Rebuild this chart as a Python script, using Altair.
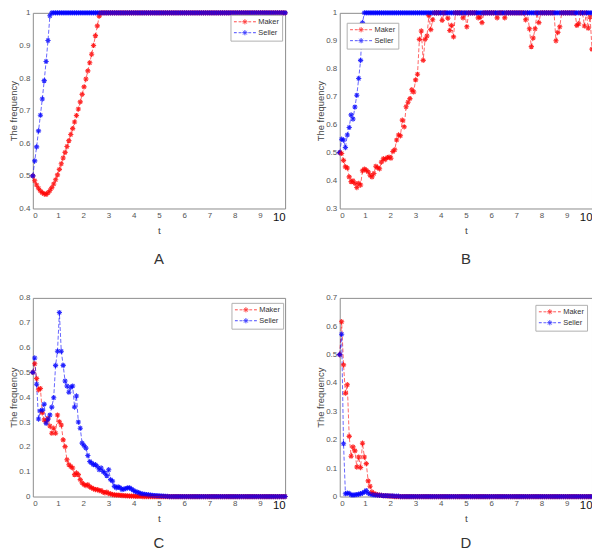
import altair as alt
import pandas as pd

N = 134
t = [round(i * 10 / (N - 1), 4) for i in range(N)]

a_seller_head = [0.5, 0.546, 0.589, 0.638, 0.686, 0.736, 0.792, 0.851, 0.915, 0.991]
a_maker_head = [0.5, 0.485, 0.472, 0.462, 0.454, 0.448, 0.445, 0.443, 0.448, 0.455,
                0.464, 0.475, 0.488, 0.503, 0.52, 0.537, 0.555, 0.572, 0.59, 0.608,
                0.627, 0.645, 0.665, 0.685, 0.705, 0.727, 0.75, 0.773, 0.797, 0.822,
                0.847, 0.873, 0.9, 0.93, 0.96, 0.99]

b_seller_head = [0.5, 0.548, 0.545, 0.518, 0.563, 0.59, 0.635, 0.62, 0.663, 0.705,
                 0.765, 0.83, 0.965]
b_maker = [0.5, 0.497, 0.472, 0.449, 0.445, 0.413, 0.396, 0.399, 0.39, 0.375,
           0.39, 0.384, 0.435, 0.441, 0.437, 0.431, 0.419, 0.413, 0.425, 0.451,
           0.446, 0.442, 0.466, 0.478, 0.475, 0.482, 0.484, 0.48, 0.504, 0.51,
           0.545, 0.563, 0.56, 0.616, 0.592, 0.664, 0.68, 0.693, 0.725, 0.717,
           0.76, 0.78, 0.905, 0.935, 0.83, 0.905, 0.917, 0.99, 0.94, 0.975,
           1, 1, 1, 1, 0.973, 1, 1, 0.981, 0.937, 0.955,
           0.914, 1, 1, 1, 1, 0.982, 1, 0.95, 1, 1,
           1, 1, 1, 0.982, 0.985, 0.965, 1, 1, 1, 1,
           1, 1, 1, 0.982, 1, 1, 1, 0.982, 1, 1,
           1, 1, 1, 1, 1, 1, 1, 1, 0.975, 1,
           0.943, 0.879, 0.91, 0.943, 1, 0.965, 1, 1, 1, 1,
           1, 1, 1, 1, 0.9, 0.93, 0.95, 1, 1, 1,
           1, 1, 1, 1, 1, 0.955, 0.961, 1, 1, 0.953,
           1, 0.945, 0.985, 0.87]

c_seller_head = [0.5, 0.558, 0.452, 0.312, 0.345, 0.348, 0.372, 0.295, 0.311, 0.328,
                 0.36, 0.398, 0.528, 0.585, 0.741, 0.585, 0.528, 0.465, 0.445, 0.42,
                 0.44, 0.445, 0.36, 0.405, 0.3, 0.275, 0.215, 0.205, 0.195, 0.165,
                 0.141, 0.135, 0.128, 0.128, 0.121, 0.108, 0.115, 0.101, 0.095, 0.084,
                 0.108, 0.068, 0.062, 0.041, 0.035, 0.039, 0.035, 0.028, 0.03, 0.032,
                 0.035, 0.035, 0.03, 0.025, 0.02, 0.018, 0.015, 0.012, 0.01, 0.009,
                 0.008, 0.007, 0.006, 0.005, 0.004, 0.004, 0.003, 0.003, 0.002, 0.002,
                 0.001, 0.001]
c_maker_head = [0.5, 0.535, 0.475, 0.43, 0.435, 0.337, 0.308, 0.301, 0.315, 0.284,
                0.255, 0.275, 0.255, 0.328, 0.301, 0.288, 0.228, 0.201, 0.148, 0.128,
                0.121, 0.115, 0.088, 0.095, 0.088, 0.068, 0.055, 0.048, 0.044, 0.048,
                0.039, 0.035, 0.031, 0.028, 0.028, 0.024, 0.024, 0.018, 0.015, 0.018,
                0.012, 0.011, 0.008, 0.007, 0.006, 0.006, 0.005, 0.004, 0.004, 0.003,
                0.003, 0.002, 0.002, 0.002, 0.001, 0.001, 0.001, 0.001]

d_maker_head = [0.5, 0.616, 0.464, 0.364, 0.394, 0.212, 0.142, 0.175, 0.161, 0.104,
                0.139, 0.102, 0.188, 0.139, 0.116, 0.055, 0.036, 0.016, 0.01, 0.008,
                0.006, 0.005, 0.004, 0.003, 0.003, 0.002, 0.002, 0.001, 0.001]
d_seller_head = [0.5, 0.572, 0.186, 0.01, 0.012, 0.011, 0.006, 0.005, 0.006, 0.007,
                 0.008, 0.01, 0.012, 0.016, 0.021, 0.012, 0.009, 0.007, 0.006, 0.005,
                 0.005, 0.004, 0.004, 0.003, 0.003, 0.003, 0.002, 0.002, 0.002, 0.001,
                 0.001, 0.001]


def settle(head, value):
    return head + [value] * (N - len(head))


series_names = ["Maker", "Seller"]
colors = ["#ff0000", "#0000ff"]

ASTER = "M-1,0L1,0M0,-1L0,1M-0.7,-0.7L0.7,0.7M-0.7,0.7L0.7,-0.7"
LEG = ("M-1,0H-0.2M0.35,0H1.15M1.7,0H2.6M3.15,0H3.95M4.5,0H5.3"
       "M1.4,0H2.9M2.15,-0.75V0.75M1.62,-0.53L2.68,0.53M1.62,0.53L2.68,-0.53")

FONT = "Liberation Sans, Arial, Helvetica, sans-serif"


def panel(maker, seller, ymin, ymax, yticks, label, lx, ly, h, toff):
    df = pd.DataFrame({
        "t": t + t,
        "v": maker + seller,
        "series": ["Maker"] * N + ["Seller"] * N,
    })
    legend = alt.Legend(
        title=None, orient="none", legendX=lx, legendY=ly,
        symbolType=LEG, symbolSize=49, symbolStrokeWidth=1, symbolDash=[1, 0],
        labelOffset=17, labelFontSize=7.5, labelColor="#333333", labelFont=FONT,
        padding=3, rowPadding=1, strokeColor="#b0b0b0", fillColor="white",
        cornerRadius=0,
    )
    xaxis = alt.Axis(
        values=list(range(11)), title="t", titleFontSize=10, titleFontWeight="normal",
        titleColor="#444444", titlePadding=3, labelPadding=3, grid=False, ticks=False,
        domain=False, labelFont=FONT, titleFont=FONT,
        labelFontSize={"condition": {"test": "datum.value == 10", "value": 11.5}, "value": 8},
        labelColor={"condition": {"test": "datum.value == 10", "value": "#111111"}, "value": "#555555"},
    )
    yaxis = alt.Axis(
        values=yticks, format="~g", title="The frequency", titleFontSize=9.5,
        titleFontWeight="normal", titleColor="#444444", titlePadding=0, labelPadding=3,
        labelFontSize=8, labelColor="#555555", grid=False, ticks=False, domain=False,
        labelFont=FONT, titleFont=FONT,
    )
    base = alt.Chart(df).encode(
        x=alt.X("t:Q", scale=alt.Scale(domain=[0, 10], nice=False), axis=xaxis),
        y=alt.Y("v:Q", scale=alt.Scale(domain=[ymin, ymax], nice=False, zero=False), axis=yaxis),
        color=alt.Color("series:N", scale=alt.Scale(domain=series_names, range=colors),
                        legend=legend),
        order=alt.Order("t:Q"),
    )
    line = base.mark_line(strokeDash=[4, 2], strokeWidth=0.8, opacity=0.75)
    pts = base.mark_point(shape=ASTER, filled=False, size=28, strokeWidth=1.1, opacity=0.8)
    return alt.layer(line, pts).properties(
        width=254, height=h,
        title=alt.TitleParams(label, orient="bottom", fontSize=15, fontWeight="normal",
                              font=FONT, color="#333333", offset=toff),
    )


pa = panel(settle(a_maker_head, 1.0), settle(a_seller_head, 1.0), 0.4, 1.0,
           [0.4, 0.5, 0.6, 0.7, 0.8, 0.9, 1.0], "A", 199, 2, 197, 16)
pb = panel(b_maker, settle(b_seller_head, 1.0), 0.3, 1.0,
           [0.3, 0.4, 0.5, 0.6, 0.7, 0.8, 0.9, 1.0], "B", 7, 10, 197, 16)
pc = panel(settle(c_maker_head, 0.0), settle(c_seller_head, 0.0), 0.0, 0.8,
           [0, 0.1, 0.2, 0.3, 0.4, 0.5, 0.6, 0.7, 0.8], "C", 200, 5, 200, 12)
pd_ = panel(settle(d_maker_head, 0.0), settle(d_seller_head, 0.0), 0.0, 0.7,
            [0, 0.1, 0.2, 0.3, 0.4, 0.5, 0.6, 0.7], "D", 197, 7, 200, 12)

chart = alt.concat(pa, pb, pc, pd_, columns=2, spacing={"column": 24, "row": 26}).resolve_scale(
    color="independent"
).resolve_legend(color="independent").configure(
    padding={"top": -3, "left": 0, "right": -6, "bottom": 0}, background="white"
).configure_view(stroke="#8c8c8c", strokeWidth=1)

chart.save("out.html", embed_options={"renderer": "svg", "actions": False})
